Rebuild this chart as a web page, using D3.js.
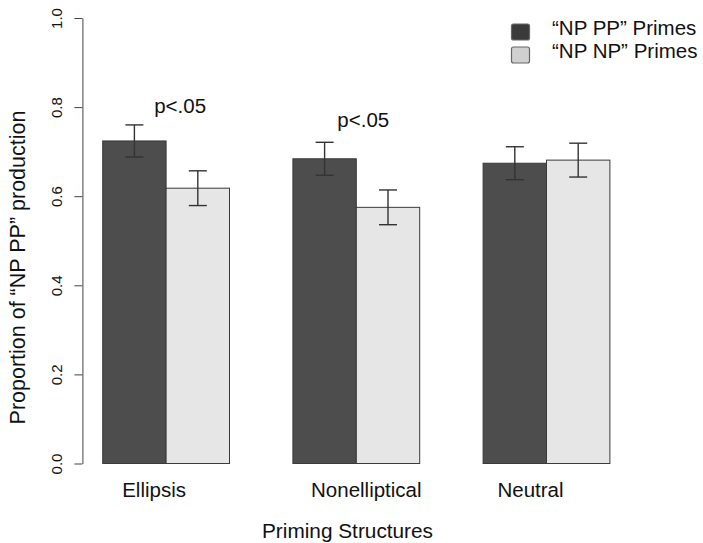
<!DOCTYPE html>
<html>
<head>
<meta charset="utf-8">
<script src="https://cdn.jsdelivr.net/npm/d3@7"></script>
<style>
  body { margin: 0; background: #fff; }
  text { font-family: "Liberation Sans", Arial, Helvetica, sans-serif; fill: #111; }
</style>
</head>
<body>
<div id="chart"></div>
<script>
// data
const categories = ['Ellipsis', 'Nonelliptical', 'Neutral'];
const seriesNames = ['\u201CNP PP\u201D Primes', '\u201CNP NP\u201D Primes'];
const npppMeans = [0.724, 0.684, 0.674];
const npppErr = [0.036, 0.037, 0.037];
const npnpMeans = [0.618, 0.575, 0.681];
const npnpErr = [0.039, 0.039, 0.038];
const yTicks = [0, 0.2, 0.4, 0.6, 0.8, 1.0];
const notes = [
  { category: 'Ellipsis', label: 'p<.05', at: 0.787 },
  { category: 'Nonelliptical', label: 'p<.05', at: 0.756 }
];

const width = 703, height = 543;
const colors = ['#4d4d4d', '#e6e6e6'];

const svg = d3.select('#chart').append('svg')
  .attr('width', width)
  .attr('height', height);

// R barplot layout: one unit per bar, one unit space before each group
const unit = 63.4;
const firstBar = 102.7;
const xGroup = d3.scaleBand()
  .domain(categories)
  .range([firstBar - 0.5 * unit, firstBar + 8.5 * unit])
  .paddingInner(1 / 3)
  .paddingOuter(1 / 6);
const xBar = d3.scaleBand()
  .domain([0, 1])
  .range([0, xGroup.bandwidth()]);
const y = d3.scaleLinear()
  .domain([0, 1])
  .range([463.5, 18]);

const rows = categories.map((c, i) => ({
  category: c,
  values: [
    { s: 0, mean: npppMeans[i], err: npppErr[i] },
    { s: 1, mean: npnpMeans[i], err: npnpErr[i] }
  ]
}));

// y axis
const yAxis = svg.append('g')
  .attr('transform', 'translate(' + (firstBar - 0.32 * unit) + ',0)')
  .call(d3.axisLeft(y).tickValues(yTicks).tickFormat(d3.format('.1f')).tickSize(8).tickSizeOuter(0));
yAxis.select('.domain').attr('stroke', '#444');
yAxis.selectAll('.tick line').attr('stroke', '#444');
yAxis.selectAll('.tick text')
  .attr('font-size', 15)
  .attr('fill', '#555')
  .attr('transform', 'rotate(-90)')
  .attr('x', 0)
  .attr('y', -20)
  .attr('dy', 0)
  .attr('text-anchor', 'middle')
  .style('font-family', '"Liberation Sans", Arial, sans-serif');

// bars
const groups = svg.append('g').selectAll('g')
  .data(rows)
  .join('g')
  .attr('transform', d => 'translate(' + xGroup(d.category) + ',0)');

groups.selectAll('rect')
  .data(d => d.values)
  .join('rect')
  .attr('x', d => xBar(d.s))
  .attr('y', d => y(d.mean))
  .attr('width', xBar.bandwidth())
  .attr('height', d => y(0) - y(d.mean))
  .attr('fill', d => colors[d.s])
  .attr('stroke', '#3a3a3a')
  .attr('stroke-width', 1);

// error bars
const cap = 9;
const eb = groups.selectAll('g.err')
  .data(d => d.values)
  .join('g')
  .attr('class', 'err')
  .attr('stroke', '#333')
  .attr('stroke-width', 1.4);
eb.append('line')
  .attr('x1', d => xBar(d.s) + xBar.bandwidth() / 2)
  .attr('x2', d => xBar(d.s) + xBar.bandwidth() / 2)
  .attr('y1', d => y(d.mean + d.err))
  .attr('y2', d => y(d.mean - d.err));
eb.selectAll('line.cap')
  .data(d => [d.mean + d.err, d.mean - d.err].map(v => ({ v, cx: xBar(d.s) + xBar.bandwidth() / 2 })))
  .join('line')
  .attr('class', 'cap')
  .attr('x1', d => d.cx - cap)
  .attr('x2', d => d.cx + cap)
  .attr('y1', d => y(d.v))
  .attr('y2', d => y(d.v));

// significance notes
const noteShift = { Ellipsis: 14, Nonelliptical: 7 };
svg.append('g').selectAll('text')
  .data(notes)
  .join('text')
  .attr('x', d => xGroup(d.category) + xGroup.bandwidth() / 2 + noteShift[d.category])
  .attr('y', d => y(d.at))
  .attr('text-anchor', 'middle')
  .attr('font-size', 20.5)
  .text(d => d.label);

// category labels
const labelShift = [-12, 10, -16];
svg.append('g').selectAll('text')
  .data(categories)
  .join('text')
  .attr('x', (d, i) => xGroup(d) + xGroup.bandwidth() / 2 + labelShift[i])
  .attr('y', 496.5)
  .attr('text-anchor', 'middle')
  .attr('font-size', 20.5)
  .text(d => d);

// axis titles
svg.append('text')
  .attr('x', 347.5)
  .attr('y', 538)
  .attr('text-anchor', 'middle')
  .attr('font-size', 20.8)
  .text('Priming Structures');

svg.append('text')
  .attr('transform', 'translate(24.5,267.5) rotate(-90)')
  .attr('text-anchor', 'middle')
  .attr('font-size', 21.5)
  .text('Proportion of \u201CNP PP\u201D production');

// legend
const legend = svg.append('g').selectAll('g')
  .data(seriesNames)
  .join('g')
  .attr('transform', (d, i) => 'translate(0,' + (i * 23) + ')');
legend.append('rect')
  .attr('x', 511.5)
  .attr('y', 24)
  .attr('width', 18)
  .attr('height', 16)
  .attr('rx', 2)
  .attr('fill', (d, i) => i === 0 ? '#3a3a3a' : '#d0d0d0')
  .attr('stroke', '#666')
  .attr('stroke-width', 1.2);
legend.append('text')
  .attr('x', 552)
  .attr('y', 35)
  .attr('font-size', 20.5)
  .text(d => d);
</script>
</body>
</html>
